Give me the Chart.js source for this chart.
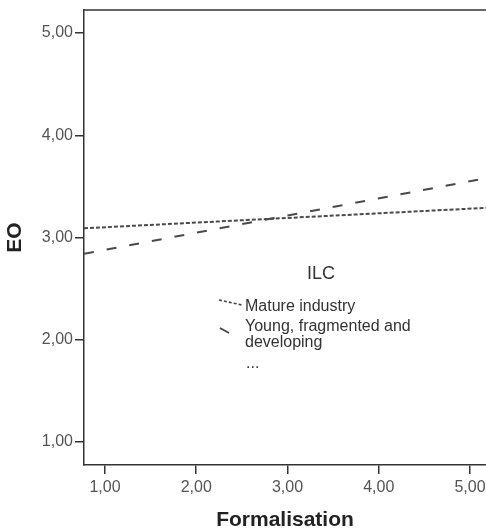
<!DOCTYPE html>
<html>
<head>
<meta charset="utf-8">
<script src="https://cdn.jsdelivr.net/npm/chart.js@4/dist/chart.umd.min.js"></script>
<style>
html,body{margin:0;padding:0;background:#fff;}
#wrap{width:486px;height:532px;position:relative;}
</style>
</head>
<body>
<div id="wrap"><canvas id="c" width="486" height="532"></canvas></div>
<script>
// Data (fit lines span the plot edges)
const xEdges = [0.77, 5.175];
const matureIndustry = [3.09, 3.29];
const youngFragmented = [2.84, 3.58];
const xTicks = [1, 2, 3, 4, 5];
const yTicks = [1, 2, 3, 4, 5];
const legendTitle = 'ILC';
const legendLabels = ['Mature industry', ['Young, fragmented and', 'developing'], '...'];

const fmt = v => v.toFixed(2).replace('.', ',');
const axisColor = '#333';
const tickFont = {family: 'Liberation Sans, Arial, sans-serif', size: 16};

const legendPlugin = {
  id: 'spssLegend',
  afterDraw(chart) {
    const ctx = chart.ctx;
    const a = chart.chartArea;
    ctx.save();
    // top frame line
    ctx.strokeStyle = axisColor;
    ctx.lineWidth = 1.5;
    ctx.beginPath();
    ctx.moveTo(a.left, a.top);
    ctx.lineTo(a.right, a.top);
    ctx.stroke();
    // legend
    ctx.fillStyle = '#333';
    ctx.textBaseline = 'middle';
    ctx.textAlign = 'center';
    ctx.font = '18px Liberation Sans, Arial, sans-serif';
    ctx.fillText(legendTitle, 321, 274);
    ctx.textAlign = 'left';
    ctx.font = '16px Liberation Sans, Arial, sans-serif';
    ctx.fillText(legendLabels[0], 245, 307);
    ctx.fillText(legendLabels[1][0], 245, 327);
    ctx.fillText(legendLabels[1][1], 245, 343);
    ctx.fillText(legendLabels[2], 246, 364);
    // samples
    ctx.strokeStyle = '#444';
    ctx.lineWidth = 1.6;
    ctx.setLineDash([3, 2]);
    ctx.beginPath();
    ctx.moveTo(219, 300);
    ctx.lineTo(242, 305);
    ctx.stroke();
    ctx.setLineDash([]);
    ctx.lineWidth = 1.8;
    ctx.beginPath();
    ctx.moveTo(220, 328);
    ctx.lineTo(229, 333);
    ctx.stroke();
    ctx.restore();
  }
};

new Chart(document.getElementById('c'), {
  type: 'scatter',
  data: {
    datasets: [
      {
        label: legendLabels[0],
        data: xEdges.map((x, i) => ({x, y: matureIndustry[i]})),
        showLine: true,
        borderColor: '#4a4a4a',
        borderWidth: 2,
        borderDash: [4, 2],
        pointRadius: 0
      },
      {
        label: legendLabels[1].join(' '),
        data: xEdges.map((x, i) => ({x, y: youngFragmented[i]})),
        showLine: true,
        borderColor: '#4a4a4a',
        borderWidth: 2,
        borderDash: [10, 13],
        pointRadius: 0
      }
    ]
  },
  options: {
    responsive: false,
    animation: false,
    devicePixelRatio: 1,
    layout: {padding: {top: 10, right: 0, left: 0, bottom: 0}},
    plugins: {legend: {display: false}, tooltip: {enabled: false}},
    scales: {
      x: {
        type: 'linear',
        min: 0.77,
        max: 5.175,
        afterBuildTicks(s) { s.ticks = xTicks.map(v => ({value: v})); },
        afterFit(s) { s.height = 67; s.paddingRight = 0; s.paddingLeft = 0; },
        grid: {display: true, drawOnChartArea: false, drawTicks: true, tickLength: 9, color: axisColor, lineWidth: 1.5},
        border: {display: true, color: axisColor, width: 1.5},
        ticks: {color: '#555', font: tickFont, padding: 4, callback: v => fmt(v), maxRotation: 0, autoSkip: false},
        title: {display: true, text: 'Formalisation', color: '#222', font: {family: 'Liberation Sans, Arial, sans-serif', size: 21, weight: 'bold'}, padding: {top: 0, bottom: -1}}
      },
      y: {
        type: 'linear',
        min: 0.775,
        max: 5.225,
        afterBuildTicks(s) { s.ticks = yTicks.map(v => ({value: v})); },
        afterFit(s) { s.width = 84; s.paddingTop = 0; s.paddingBottom = 0; },
        grid: {display: true, drawOnChartArea: false, drawTicks: true, tickLength: 9, color: axisColor, lineWidth: 1.5},
        border: {display: true, color: axisColor, width: 1.5},
        ticks: {color: '#555', font: tickFont, padding: 2, callback: v => fmt(v), autoSkip: false},
        title: {display: true, text: 'EO', color: '#222', font: {family: 'Liberation Sans, Arial, sans-serif', size: 21, weight: 'bold'}, padding: {top: 3, bottom: 3}}
      }
    }
  },
  plugins: [legendPlugin]
});
</script>
</body>
</html>
